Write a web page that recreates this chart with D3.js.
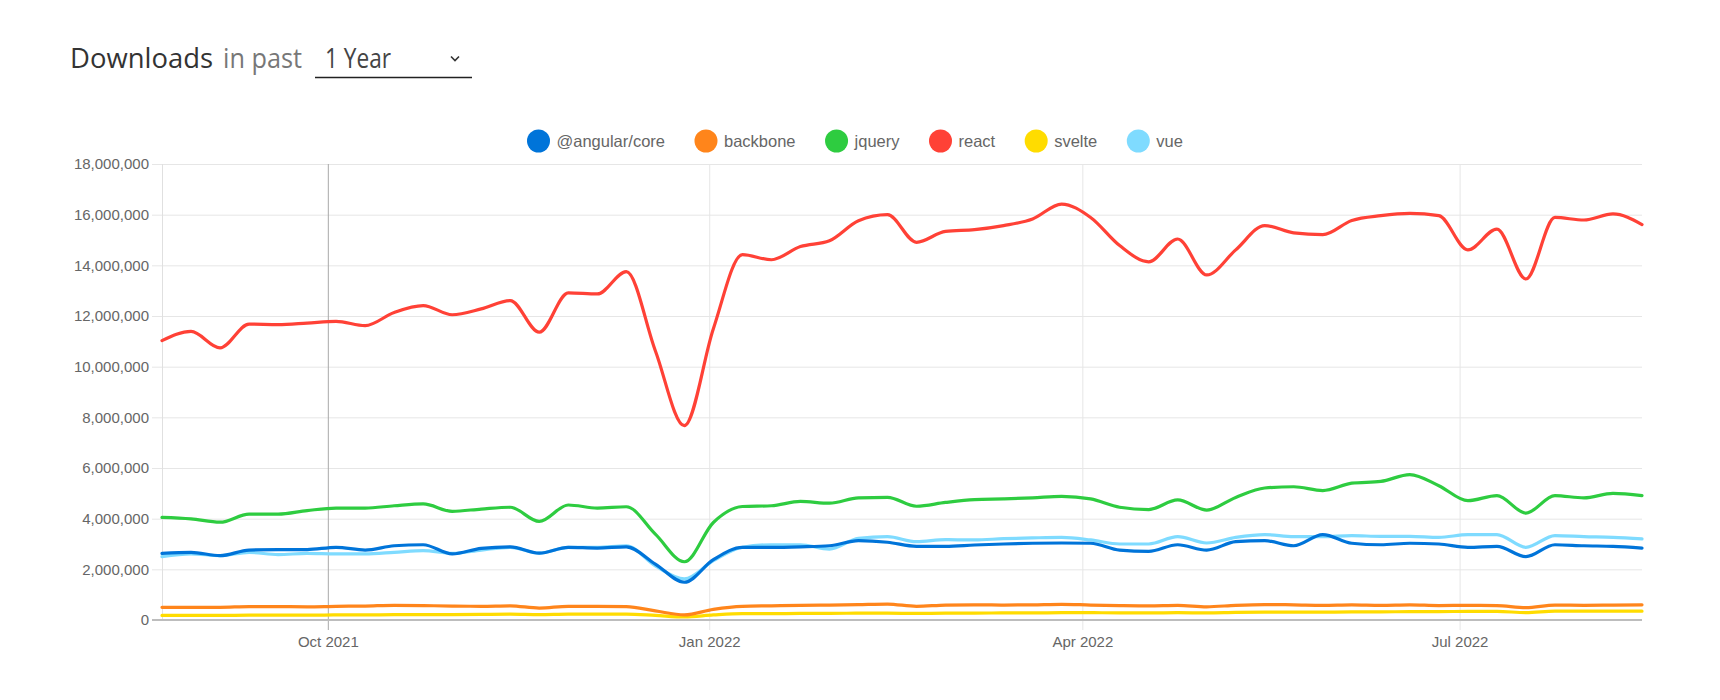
<!DOCTYPE html>
<html>
<head>
<meta charset="utf-8">
<script src="https://cdn.jsdelivr.net/npm/d3@7/dist/d3.min.js"></script>
<style>
  html, body { margin: 0; padding: 0; background: #fff; }
  svg { display: block; }
</style>
</head>
<body>
<svg id="chart" width="1720" height="700"></svg>
<script>
// ---------------- DATA ----------------
const dates = [
  "2021-08-22","2021-08-29","2021-09-05","2021-09-12","2021-09-19","2021-09-26",
  "2021-10-03","2021-10-10","2021-10-17","2021-10-24","2021-10-31","2021-11-07",
  "2021-11-14","2021-11-21","2021-11-28","2021-12-05","2021-12-12","2021-12-19",
  "2021-12-26","2022-01-02","2022-01-09","2022-01-16","2022-01-23","2022-01-30",
  "2022-02-06","2022-02-13","2022-02-20","2022-02-27","2022-03-06","2022-03-13",
  "2022-03-20","2022-03-27","2022-04-03","2022-04-10","2022-04-17","2022-04-24",
  "2022-05-01","2022-05-08","2022-05-15","2022-05-22","2022-05-29","2022-06-05",
  "2022-06-12","2022-06-19","2022-06-26","2022-07-03","2022-07-10","2022-07-17",
  "2022-07-24","2022-07-31","2022-08-07","2022-08-14"
];

const seriesNames = ["@angular/core", "backbone", "jquery", "react", "svelte", "vue"];
const seriesColors = ["#0074D9", "#FF851B", "#2ECC40", "#FF4136", "#FFDC00", "#7FDBFF"];

const angularCore = [
  2630000,2670000,2540000,2760000,2780000,2780000,2870000,2760000,2930000,2970000,
  2610000,2830000,2890000,2640000,2870000,2840000,2890000,2210000,1490000,2380000,
  2870000,2870000,2890000,2930000,3130000,3070000,2910000,2910000,2960000,3000000,
  3030000,3040000,3030000,2760000,2710000,2970000,2760000,3090000,3130000,2930000,
  3370000,3030000,2970000,3030000,3000000,2870000,2910000,2500000,2970000,2930000,
  2910000,2840000
];
const backbone = [
  500000,500000,500000,530000,530000,520000,540000,550000,580000,570000,
  550000,540000,560000,470000,540000,540000,530000,360000,200000,420000,
  540000,560000,580000,590000,610000,630000,540000,590000,600000,590000,
  600000,620000,590000,570000,560000,580000,520000,580000,610000,600000,
  580000,600000,580000,600000,570000,580000,570000,490000,590000,580000,
  590000,600000
];
const jquery = [
  4050000,3990000,3860000,4180000,4180000,4320000,4420000,4420000,4510000,4580000,
  4290000,4380000,4450000,3890000,4540000,4420000,4470000,3390000,2300000,3850000,
  4480000,4510000,4680000,4610000,4820000,4840000,4490000,4640000,4750000,4780000,
  4820000,4880000,4780000,4450000,4360000,4740000,4340000,4840000,5210000,5260000,
  5110000,5400000,5470000,5740000,5300000,4710000,4910000,4220000,4910000,4820000,
  5000000,4910000
];
const react = [
  11030000,11390000,10740000,11680000,11660000,11720000,11790000,11620000,12140000,12410000,
  12050000,12280000,12610000,11360000,12910000,12870000,13750000,10630000,7670000,11500000,
  14420000,14220000,14740000,14970000,15760000,16000000,14910000,15340000,15410000,15570000,
  15830000,16420000,15890000,14780000,14140000,15040000,13620000,14610000,15570000,15280000,
  15210000,15770000,15960000,16050000,15960000,14610000,15430000,13460000,15890000,15790000,
  16030000,15610000
];
const svelte = [
  180000,180000,180000,190000,190000,190000,200000,200000,210000,210000,
  210000,220000,230000,210000,230000,230000,230000,180000,120000,200000,
  250000,250000,260000,260000,270000,270000,260000,270000,270000,280000,
  280000,290000,290000,280000,280000,290000,280000,300000,310000,310000,
  310000,320000,320000,330000,330000,340000,340000,290000,350000,350000,
  350000,350000
];
const vue = [
  2500000,2610000,2540000,2670000,2580000,2630000,2610000,2610000,2670000,2740000,
  2630000,2760000,2870000,2640000,2870000,2870000,2930000,2140000,1620000,2340000,
  2870000,2970000,2970000,2800000,3220000,3290000,3090000,3170000,3160000,3210000,
  3240000,3260000,3160000,3000000,3000000,3290000,3040000,3260000,3370000,3290000,
  3290000,3330000,3300000,3300000,3260000,3370000,3370000,2870000,3330000,3290000,
  3260000,3200000
];

const yTickValues = [0,2000000,4000000,6000000,8000000,10000000,12000000,14000000,16000000,18000000];
const xTickLabels = ["2021-10-01","2022-01-01","2022-04-01","2022-07-01"];

// ---------------- CHART ----------------
const svg = d3.select("#chart");
const parse = d3.utcParse("%Y-%m-%d");
const parsedDates = dates.map(parse);
const allValues = [angularCore, backbone, jquery, react, svelte, vue];

const plot = { left: 162, right: 1642, top: 164, bottom: 620 };

const x = d3.scaleUtc().domain(d3.extent(parsedDates)).range([plot.left, plot.right]);
const y = d3.scaleLinear().domain([0, 18000000]).range([plot.bottom, plot.top]);

// Title
const title = svg.append("g").attr("font-family", "'Open Sans', 'Noto Sans', sans-serif");
title.append("text").attr("x", 70).attr("y", 68).attr("font-size", 27).attr("fill", "#333")
  .attr("textLength", 143).attr("lengthAdjust", "spacingAndGlyphs")
  .text("Downloads");
title.append("text").attr("x", 223).attr("y", 68).attr("font-size", 27).attr("fill", "#777")
  .attr("textLength", 79).attr("lengthAdjust", "spacingAndGlyphs")
  .text("in past");
title.append("text").attr("x", 325).attr("y", 68).attr("font-size", 27).attr("fill", "#444")
  .attr("textLength", 66).attr("lengthAdjust", "spacingAndGlyphs")
  .text("1 Year");
title.append("line").attr("x1", 315).attr("x2", 472).attr("y1", 77.5).attr("y2", 77.5)
  .attr("stroke", "#222").attr("stroke-width", 1.5);
title.append("path").attr("d", "M451,56.5 L455,60.5 L459,56.5")
  .attr("fill", "none").attr("stroke", "#333").attr("stroke-width", 1.6);

// Y axis with gridlines
const yAxis = d3.axisLeft(y)
  .tickValues(yTickValues)
  .tickFormat(d3.format(","))
  .tickSize(-(plot.right - 152))
  .tickPadding(3);
const gy = svg.append("g").attr("transform", "translate(152,0)").call(yAxis);
gy.select(".domain").remove();
gy.selectAll(".tick line").attr("stroke", "#e6e6e6").attr("stroke-width", 1);
gy.selectAll(".tick text").attr("fill", "#666").attr("font-size", 15)
  .attr("font-family", "'Liberation Sans', Arial, sans-serif");

// X axis with gridlines
const xAxis = d3.axisBottom(x)
  .tickValues(xTickLabels.map(parse))
  .tickFormat(d3.utcFormat("%b %Y"))
  .tickSize(-(630 - plot.top))
  .tickPadding(6);
const gx = svg.append("g").attr("transform", "translate(0,630)").call(xAxis);
gx.select(".domain").remove();
gx.selectAll(".tick line").attr("stroke", (d, i) => i === 0 ? "#a8a8a8" : "#e6e6e6").attr("stroke-width", 1);
gx.selectAll(".tick text").attr("fill", "#666").attr("font-size", 15)
  .attr("font-family", "'Liberation Sans', Arial, sans-serif");

// Left border and bottom axis line
svg.append("line").attr("x1", plot.left + 0.5).attr("x2", plot.left + 0.5)
  .attr("y1", plot.top).attr("y2", plot.bottom)
  .attr("stroke", "#e0e0e0").attr("stroke-width", 1);
svg.append("line").attr("x1", 152).attr("x2", plot.right)
  .attr("y1", y(0)).attr("y2", y(0))
  .attr("stroke", "#bdbdbd").attr("stroke-width", 2);

// Lines (first series drawn on top)
const line = d3.line()
  .x((d, i) => x(parsedDates[i]))
  .y(d => y(d))
  .curve(d3.curveMonotoneX);

const lineG = svg.append("g");
for (let s = allValues.length - 1; s >= 0; s--) {
  lineG.append("path")
    .datum(allValues[s])
    .attr("d", line)
    .attr("fill", "none")
    .attr("stroke", seriesColors[s])
    .attr("stroke-width", 3.2)
    .attr("stroke-linejoin", "round")
    .attr("stroke-linecap", "round");
}

// Legend
const legend = svg.append("g").attr("font-family", "'Liberation Sans', Arial, sans-serif")
  .attr("font-size", 16.5);
let cx = 538.5;
const cy = 141;
seriesNames.forEach((name, i) => {
  legend.append("circle").attr("cx", cx).attr("cy", cy).attr("r", 11.5)
    .attr("fill", seriesColors[i]);
  const t = legend.append("text").attr("x", cx + 18).attr("y", cy + 5.5)
    .attr("fill", "#666").text(name);
  const w = t.node().getComputedTextLength();
  cx = cx + 18 + w + 41;
});
</script>
</body>
</html>
